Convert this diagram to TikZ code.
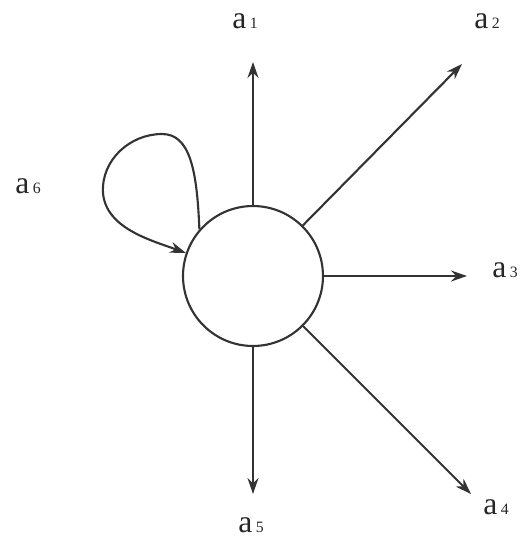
\documentclass[tikz,border=0pt]{standalone}
\usepackage{fontspec}
\setmainfont{Liberation Serif}
\usetikzlibrary{arrows.meta}
\newcommand{\albl}[1]{{\fontsize{18}{18}\selectfont a}\kern2pt{\fontsize{9}{9}\selectfont #1}}

\begin{document}
\begin{tikzpicture}[
    x=0.02cm, y=-0.02cm,
    % style for the central state
    state/.style={
        circle,
        draw=black!80,
        line width=1.2pt,
        inner sep=0pt,
        minimum size=2.8cm
    },
    % style for the outgoing edges
    edge style/.style={
        draw=black!80,
        line width=1.2pt,
        -{Stealth[length=3.2mm,width=2.2mm]}
    },
    lbl/.style={inner sep=0pt, text=black!85}
]
    \useasboundingbox (0,0) rectangle (522,539);

    % central state
    \node[state] (c) at (253,276) {};

    % free ends of the edges
    \coordinate (e1) at (253,62);
    \coordinate (e2) at (462,64);
    \coordinate (e3) at (467,276);
    \coordinate (e4) at (471,494);
    \coordinate (e5) at (253,494);

    % labels
    \node[lbl] (a1) at (245,21) {\albl{1}};
    \node[lbl] (a2) at (487,21) {\albl{2}};
    \node[lbl] (a3) at (505,270) {\albl{3}};
    \node[lbl] (a4) at (496,507) {\albl{4}};
    \node[lbl] (a5) at (251,525) {\albl{5}};
    \node[lbl] (a6) at (28,186) {\albl{6}};

    \begin{scope}[edge style]
        \draw (c) -- (e1);
        \draw (c) -- (e2);
        \draw (c) -- (e3);
        \draw (c) -- (e4);
        \draw (c) -- (e5);

        % the self loop on the left
        \draw (c.139) .. controls (197,170) and (190,134) .. (162,134)
              .. controls (130,134) and (101,160) .. (103,193)
              .. controls (106,228) and (150,240) .. (c.161);
    \end{scope}

\end{tikzpicture}
\end{document}
